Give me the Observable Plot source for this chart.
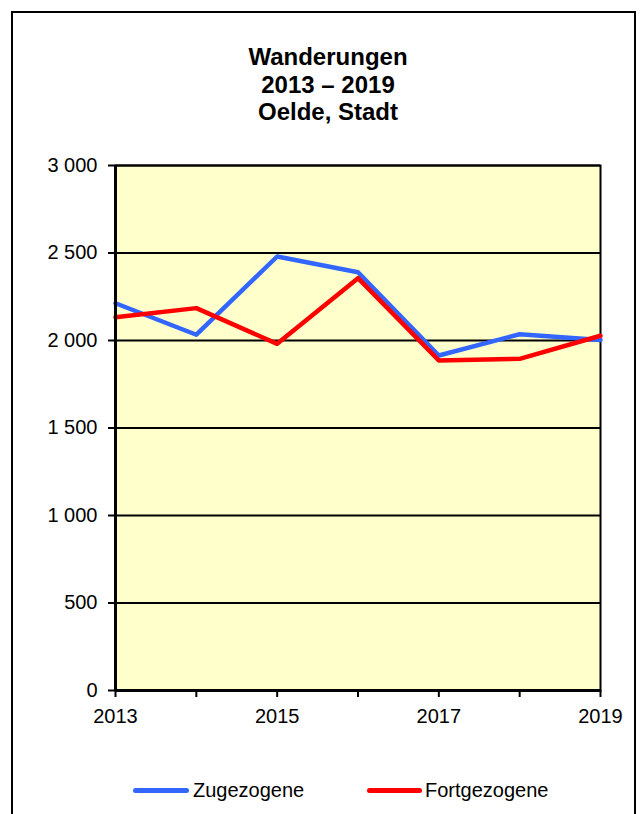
<!DOCTYPE html>
<html><head><meta charset="utf-8">
<script src="https://cdn.jsdelivr.net/npm/d3@7"></script>
<script src="https://cdn.jsdelivr.net/npm/@observablehq/plot@0.6"></script>
<style>
body{margin:0;background:#fff;font-family:"Liberation Sans",Arial,sans-serif;}
#wrap{position:relative;width:643px;height:814px;overflow:hidden;}
#frame{position:absolute;left:11px;top:11px;width:625px;height:830px;border:2px solid #000;box-sizing:border-box;}
#title{position:absolute;left:0;width:656px;top:43px;text-align:center;font-weight:bold;font-size:24px;line-height:27.5px;color:#000;}
#chart{position:absolute;left:0;top:0;}
.lg{position:absolute;font-size:20px;line-height:20px;color:#000;white-space:nowrap;}
.sw{position:absolute;height:5px;border-radius:3px;}
</style></head>
<body><div id="wrap">
<div id="frame"></div>
<div id="title">Wanderungen<br>2013 – 2019<br>Oelde, Stadt</div>
<div id="chart"></div>
<div class="sw" style="left:133px;top:788px;width:56px;background:#3366FF"></div>
<div class="lg" style="left:193px;top:780px">Zugezogene</div>
<div class="sw" style="left:367px;top:788px;width:55px;background:#FF0000"></div>
<div class="lg" style="left:425px;top:780px">Fortgezogene</div>
</div>
<script>
const years = [2013, 2014, 2015, 2016, 2017, 2018, 2019];
const zugezogene = [2213, 2033, 2480, 2390, 1914, 2036, 2003];
const fortgezogene = [2133, 2185, 1981, 2356, 1886, 1895, 2027];
const yTicks = [0, 500, 1000, 1500, 2000, 2500, 3000];
const xLabels = [2013, 2015, 2017, 2019];

const zug = years.map((y, i) => ({year: y, value: zugezogene[i]}));
const fort = years.map((y, i) => ({year: y, value: fortgezogene[i]}));
const fmt = d => d3.format(",")(d).replace(/,/g, " ");

const chart = Plot.plot({
  width: 643,
  height: 740,
  marginTop: 165,
  marginBottom: 50,
  marginLeft: 115,
  marginRight: 43,
  style: {fontFamily: "'Liberation Sans', Arial, sans-serif", fontSize: "19.5px", background: "transparent", color: "#000"},
  x: {domain: [2013, 2019]},
  y: {domain: [0, 3000]},
  marks: [
    Plot.frame({fill: "#FFFFCC", stroke: "#000", strokeWidth: 2}),
    Plot.ruleY(yTicks.filter(d => d > 0), {stroke: "#000", strokeWidth: 2}),
    Plot.lineY(zug, {x: "year", y: "value", stroke: "#3366FF", strokeWidth: 4.5}),
    Plot.lineY(fort, {x: "year", y: "value", stroke: "#FF0000", strokeWidth: 4.5}),
    Plot.ruleX([2013], {stroke: "#000", strokeWidth: 3}),
    Plot.ruleY([0], {stroke: "#000", strokeWidth: 3}),
    Plot.axisY({ticks: yTicks, tickSize: 7, tickPadding: 11, tickFormat: fmt, label: null, strokeWidth: 2, fontSize: 20}),
    Plot.axisX({ticks: years, tickSize: 7, tickPadding: 11, tickFormat: d => xLabels.includes(d) ? String(d) : "", label: null, strokeWidth: 2, fontSize: 20})
  ]
});
document.getElementById("chart").appendChild(chart);
</script>
</body></html>
